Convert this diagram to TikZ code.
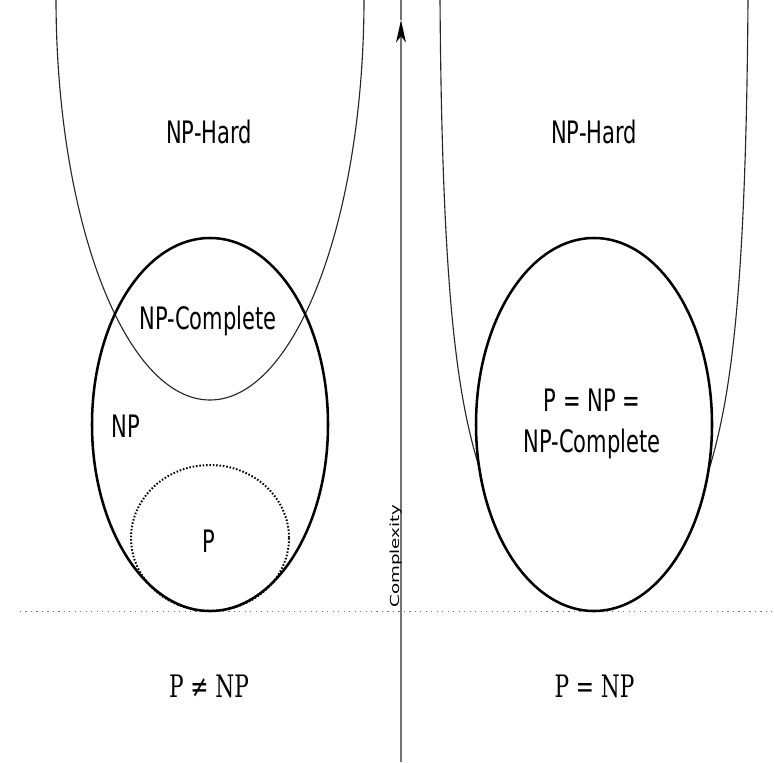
\documentclass[tikz,border=0pt]{standalone}
\usepackage{fontspec}
\usepackage{tikz}
\usetikzlibrary{arrows.meta}
\newfontfamily\labelsans{DejaVu Sans}
\newfontfamily\labelserif{DejaVu Serif}

\begin{document}
\begin{tikzpicture}[x=0.025cm, y=-0.025cm,
    setline/.style={draw=black, line width=1.8pt},
    hardline/.style={draw=black!85, line width=0.8pt},
    pline/.style={draw=black, line width=1.4pt, dash pattern=on 1.1pt off 1.3pt},
    axisline/.style={draw=black!55, line width=1pt},
    floor/.style={draw=black!55, line width=0.7pt, dash pattern=on 0.8pt off 3.1pt},
    lbl/.style={font=\labelsans\fontsize{22}{29}\selectfont, xscale=0.68, inner sep=0pt, align=center},
    eqlbl/.style={font=\labelserif\fontsize{22}{26}\selectfont, xscale=0.7, inner sep=0pt, anchor=base},
    axlbl/.style={font=\labelsans\fontsize{13}{15}\selectfont, xscale=0.68, rotate=90, inner sep=0pt, anchor=base}
]
    \useasboundingbox (0,0) rectangle (774,762);

    % complexity axis and P-level line
    \coordinate (axbot) at (401,762);
    \coordinate (axtip) at (401,20);
    \coordinate (axtop) at (401,-2);
    \coordinate (floorL) at (20,611);
    \coordinate (floorR) at (774,611);
    \draw[floor] (floorL) -- (floorR);
    \draw[axisline, -{Stealth[length=16pt, width=7pt, inset=4.5pt, color=black]}] (axbot) -- (axtip);
    \draw[axisline] (axtip) -- (axtop);
    \node[axlbl] (cplx) at (399,556) {Complexity};

    % left: P != NP
    \coordinate (hardtopL) at (56,-2);
    \draw[hardline] (hardtopL) arc[start angle=180, end angle=0, x radius=154, y radius=402];
    \draw[pline] (210,538) ellipse [x radius=79, y radius=73];
    \draw[setline] (210,424.5) ellipse [x radius=118, y radius=186.5];

    \node[lbl, anchor=base] (hardL) at (209,143) {NP-Hard};
    \node[lbl, anchor=base] (npcL) at (208,329) {NP-Complete};
    \node[lbl, anchor=base] (npL) at (126,437) {NP};
    \node[lbl, anchor=base] (pL) at (209,552) {P};
    \node[eqlbl] (neq) at (209,697) {P ≠ NP};

    % right: P = NP
    \coordinate (hardtopR1) at (440,-2);
    \coordinate (hardtopR2) at (748,-2);
    \draw[hardline] (hardtopR1) .. controls (442,300) and (458,400) .. (480,470)
        arc[start angle=165.9, end angle=14.1, x radius=118, y radius=186.5]
        .. controls (730,400) and (746,300) .. (hardtopR2);
    \draw[setline] (594,424.5) ellipse [x radius=118, y radius=186.5];

    \node[lbl, anchor=base] (hardR) at (594,143) {NP-Hard};
    \node[lbl] (allR) at (592,424) {P = NP =\\NP-Complete};
    \node[eqlbl] (eq) at (594.5,697) {P = NP};
\end{tikzpicture}
\end{document}
